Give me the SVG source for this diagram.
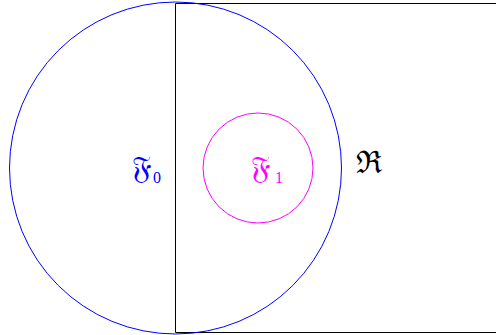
<svg xmlns="http://www.w3.org/2000/svg" width="496" height="335" viewBox="0 0 496 335">
<style>
text{font-family:"DejaVu Serif","Liberation Serif",serif;}
.big{font-size:31px;}
.sub{font-size:16px;font-family:"Liberation Serif",serif;}
</style>
<rect width="496" height="335" fill="#fff"/>
<g id="connectors" fill="none" stroke="#000" stroke-width="1">
<path d="M496,3.5 H175.5 V332.5 H496"/>
</g>
<g id="F0">
<circle cx="175.5" cy="168" r="166" fill="none" stroke="#0000ff" stroke-width="1"/>
<text x="132" y="178" class="big" fill="#0000ff">𝔉<tspan class="sub" dx="1" dy="5">0</tspan></text>
</g>
<g id="F1">
<circle cx="258" cy="168" r="55" fill="none" stroke="#ff00ff" stroke-width="1"/>
<text x="251" y="178" class="big" fill="#ff00ff">𝔉<tspan class="sub" dx="4" dy="5">1</tspan></text>
</g>
<g id="R">
<text x="356" y="173" class="big" fill="#000">ℜ</text>
</g>
</svg>
